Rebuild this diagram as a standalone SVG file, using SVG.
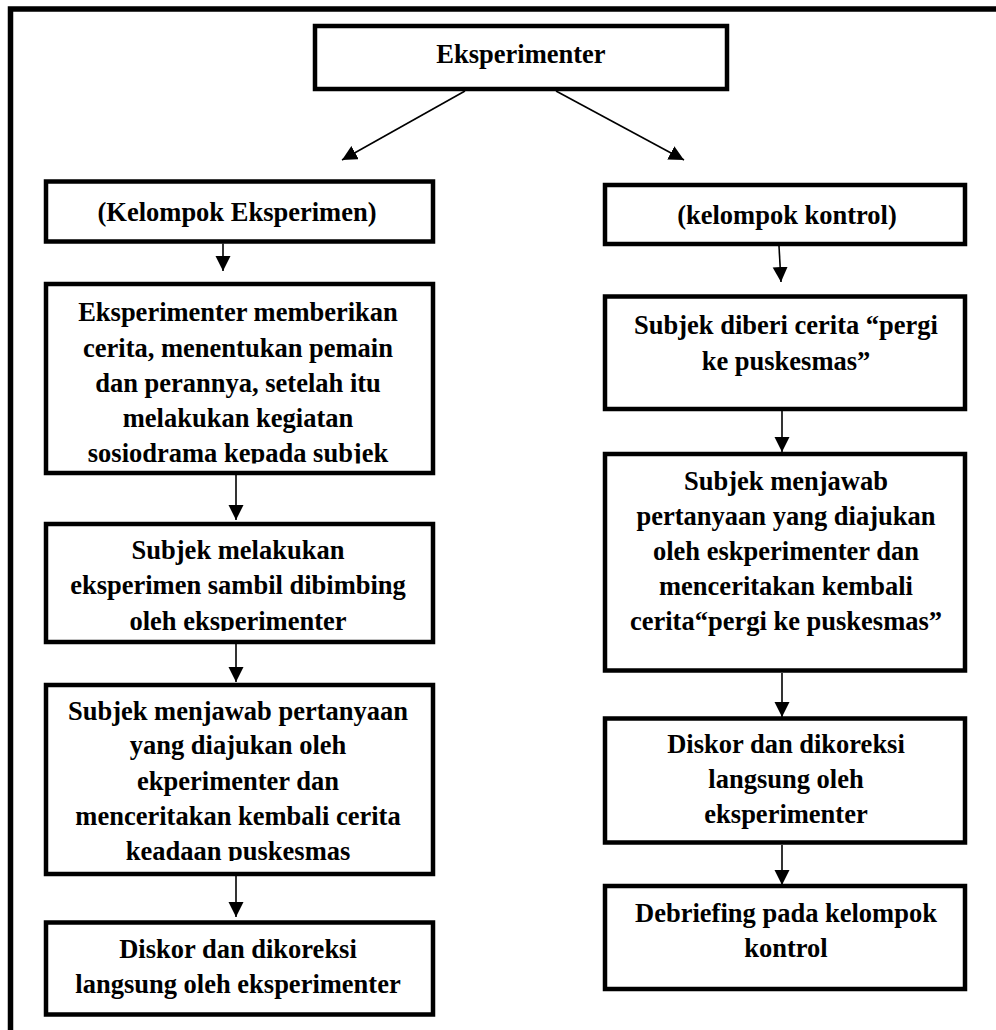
<svg xmlns="http://www.w3.org/2000/svg" width="996" height="1030" viewBox="0 0 996 1030">
<style>
.box{fill:#fff;stroke:#000;stroke-width:4.5}
.frame{fill:none;stroke:#000;stroke-width:5.5;stroke-linejoin:miter}
.t{font-family:"Liberation Serif","Times New Roman",serif;font-weight:bold;font-size:26.5px;fill:#000;text-anchor:middle}
.c{fill:none;stroke:#000;stroke-width:1.6}
</style>
<defs>
<marker id="ah" markerUnits="userSpaceOnUse" markerWidth="16" markerHeight="16" refX="15" refY="7.5" orient="auto">
<path d="M0,0 L15,7.5 L0,15 z" fill="#000"/>
</marker>
<clipPath id="clipL2"><rect x="48" y="286" width="383" height="177.5"/></clipPath>
<clipPath id="clipL3"><rect x="48" y="526" width="383" height="105"/></clipPath>
<clipPath id="clipL4"><rect x="48" y="687" width="383" height="174"/></clipPath>
</defs>
<rect x="0" y="0" width="996" height="1030" fill="#fff"/>
<path class="frame" d="M10.5,1034 V9 H1000"/>

<g id="connectors">
<line class="c" x1="465" y1="91" x2="342" y2="160" marker-end="url(#ah)"/>
<line class="c" x1="556" y1="91" x2="684" y2="160" marker-end="url(#ah)"/>
<line class="c" x1="223" y1="243.5" x2="223" y2="271" marker-end="url(#ah)"/>
<line class="c" x1="236" y1="475" x2="236" y2="520" marker-end="url(#ah)"/>
<line class="c" x1="236" y1="644" x2="236" y2="682" marker-end="url(#ah)"/>
<line class="c" x1="236" y1="876" x2="236" y2="917" marker-end="url(#ah)"/>
<line class="c" x1="779" y1="246" x2="781" y2="282" marker-end="url(#ah)"/>
<line class="c" x1="782" y1="411" x2="782" y2="452" marker-end="url(#ah)"/>
<line class="c" x1="782" y1="673" x2="782" y2="717" marker-end="url(#ah)"/>
<line class="c" x1="782" y1="845" x2="782" y2="885" marker-end="url(#ah)"/>
</g>

<g id="n-eksperimenter">
<rect class="box" x="315" y="26" width="412" height="63"/>
<text class="t" x="521" y="63">Eksperimenter</text>
</g>

<g id="n-kelompok-eksperimen">
<rect class="box" x="46" y="181.5" width="387" height="60"/>
<text class="t" x="237" y="221">(Kelompok Eksperimen)</text>
</g>

<g id="n-left2">
<rect class="box" x="46" y="284" width="387" height="189"/>
<g clip-path="url(#clipL2)">
<text class="t" x="238" y="321">Eksperimenter memberikan</text>
<text class="t" x="238" y="356.5">cerita, menentukan pemain</text>
<text class="t" x="238" y="392">dan perannya, setelah itu</text>
<text class="t" x="238" y="427">melakukan kegiatan</text>
<text class="t" x="238" y="462">sosiodrama kepada subjek</text>
</g>
</g>

<g id="n-left3">
<rect class="box" x="46" y="524" width="387" height="118"/>
<g clip-path="url(#clipL3)">
<text class="t" x="238" y="559">Subjek melakukan</text>
<text class="t" x="238" y="594">eksperimen sambil dibimbing</text>
<text class="t" x="238" y="629.5">oleh eksperimenter</text>
</g>
</g>

<g id="n-left4">
<rect class="box" x="46" y="685" width="387" height="189"/>
<g clip-path="url(#clipL4)">
<text class="t" x="238" y="719.5">Subjek menjawab pertanyaan</text>
<text class="t" x="238" y="754">yang diajukan oleh</text>
<text class="t" x="238" y="790">ekperimenter dan</text>
<text class="t" x="238" y="825">menceritakan kembali cerita</text>
<text class="t" x="238" y="859.5">keadaan puskesmas</text>
</g>
</g>

<g id="n-left5">
<rect class="box" x="46" y="922.5" width="387" height="92"/>
<text class="t" x="238" y="958">Diskor dan dikoreksi</text>
<text class="t" x="238" y="993">langsung oleh eksperimenter</text>
</g>

<g id="n-kelompok-kontrol">
<rect class="box" x="605" y="185" width="360" height="59"/>
<text class="t" x="787" y="224">(kelompok kontrol)</text>
</g>

<g id="n-right2">
<rect class="box" x="605" y="296.5" width="360" height="112.5"/>
<text class="t" x="786" y="334">Subjek diberi cerita “pergi</text>
<text class="t" x="786" y="370">ke puskesmas”</text>
</g>

<g id="n-right3">
<rect class="box" x="605" y="454" width="360" height="216.5"/>
<text class="t" x="786" y="490">Subjek menjawab</text>
<text class="t" x="786" y="524.5">pertanyaan yang diajukan</text>
<text class="t" x="786" y="559.5">oleh eskperimenter dan</text>
<text class="t" x="786" y="595">menceritakan kembali</text>
<text class="t" x="786" y="630">cerita“pergi ke puskesmas”</text>
</g>

<g id="n-right4">
<rect class="box" x="605" y="718.5" width="360" height="124"/>
<text class="t" x="786" y="753">Diskor dan dikoreksi</text>
<text class="t" x="786" y="788">langsung oleh</text>
<text class="t" x="786" y="823">eksperimenter</text>
</g>

<g id="n-right5">
<rect class="box" x="605" y="886" width="360" height="103"/>
<text class="t" x="786" y="922">Debriefing pada kelompok</text>
<text class="t" x="786" y="957">kontrol</text>
</g>
</svg>
